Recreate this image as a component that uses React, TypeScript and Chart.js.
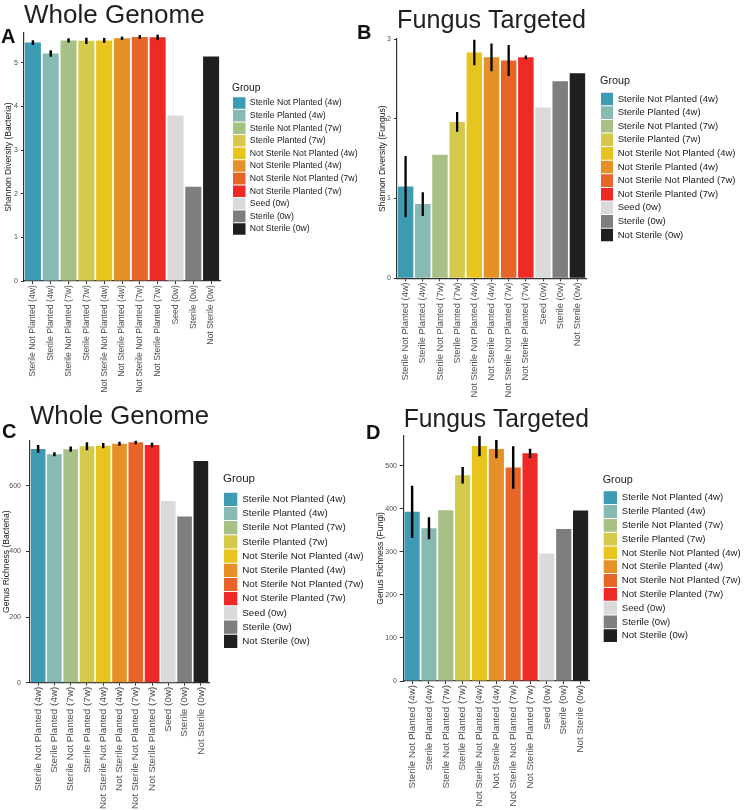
import React, { useEffect, useRef } from 'react';
import { Chart, registerables } from 'chart.js';

Chart.register(...registerables);

const FONT = "'Liberation Sans', Arial, Helvetica, sans-serif";

const groups = [
  'Sterile Not Planted (4w)',
  'Sterile Planted (4w)',
  'Sterile Not Planted (7w)',
  'Sterile Planted (7w)',
  'Not Sterile Not Planted (4w)',
  'Not Sterile Planted (4w)',
  'Not Sterile Not Planted (7w)',
  'Not Sterile Planted (7w)',
  'Seed (0w)',
  'Sterile (0w)',
  'Not Sterile (0w)',
];

const groupColors = [
  '#3E9BB4', '#86BAB3', '#A6C085', '#D5C94C', '#E8C41E', '#E69128',
  '#E8652A', '#EE2A27', '#DADADA', '#7E7E7E', '#1F1F1F',
];

// A: Shannon diversity, whole genome (bacteria)
const shannonBacteria = [5.46, 5.21, 5.51, 5.5, 5.51, 5.56, 5.59, 5.58, 3.79, 2.16, 5.14];
const shannonBacteriaErr = [0.045, 0.065, 0.04, 0.065, 0.05, 0.03, 0.035, 0.055, null, null, null];

// B: Shannon diversity, fungus targeted
const shannonFungus = [1.15, 0.93, 1.55, 1.96, 2.83, 2.77, 2.73, 2.77, 2.14, 2.47, 2.57];
const shannonFungusErr = [0.38, 0.145, null, 0.12, 0.155, 0.17, 0.19, 0.02, null, null, null];

// C: Genus richness, whole genome (bacteria)
const richnessBacteria = [712, 696, 711, 720, 722, 728, 732, 724, 553, 506, 675];
const richnessBacteriaErr = [11, 5, 7, 11, 7, 5, 5, 6, null, null, null];

// D: Genus richness, fungus targeted
const richnessFungi = [393, 355, 397, 478, 546, 539, 496, 529, 296, 353, 396];
const richnessFungiErr = [60, 25, null, 18.5, 23, 20.5, 48.5, 10, null, null, null];

type Spec = {
  key: string;
  letter: string;
  letterX: number;
  letterY: number;
  x: number;
  y: number;
  W: number;
  H: number;
  title: string;
  yTitle: string;
  values: number[];
  errs: (number | null)[];
  max: number;
  step: number;
  chartLeft: number;
  chartRight: number;
  titlePadTop: number;
  titlePadBottom: number;
  zeroY: number;
  legendX: number;
  groupY: number;
  firstY: number;
  boxW: number;
  boxH: number;
  itemPad: number;
  legendFont: number;
  legendTitleFont: number;
  xFont: number;
  yTitleCenter: number;
  yTickPad: number;
  tickLen: number;
  errW: number;
};

const specs: Spec[] = [
  {
    key: 'A', letter: 'A', letterX: 1, letterY: 26,
    x: 0, y: 0, W: 372, H: 400,
    title: 'Whole Genome', yTitle: 'Shannon Diversity (Bacteria)',
    values: shannonBacteria, errs: shannonBacteriaErr, max: 5.68, step: 1,
    chartLeft: 24, chartRight: 220, titlePadTop: 3, titlePadBottom: 4, zeroY: 281,
    legendX: 233, groupY: 88, firstY: 103, boxW: 12.5, boxH: 11.6, itemPad: 1,
    legendFont: 8.7, legendTitleFont: 10.2, xFont: 8.7, yTitleCenter: 9, yTickPad: 3, tickLen: 3, errW: 1.8,
  },
  {
    key: 'B', letter: 'B', letterX: 357, letterY: 22,
    x: 372, y: 0, W: 372, H: 400,
    title: 'Fungus Targeted', yTitle: 'Shannon Diversity (Fungus)',
    values: shannonFungus, errs: shannonFungusErr, max: 3.0, step: 1,
    chartLeft: 25, chartRight: 214, titlePadTop: 7.7, titlePadBottom: 5.3, zeroY: 278.3,
    legendX: 229, groupY: 81, firstY: 99, boxW: 12, boxH: 12.6, itemPad: 1,
    legendFont: 9.5, legendTitleFont: 10.8, xFont: 9.3, yTitleCenter: 11, yTickPad: 3, tickLen: 3, errW: 1.6,
  },
  {
    key: 'C', letter: 'C', letterX: 2, letterY: 421,
    x: 0, y: 400, W: 372, H: 410,
    title: 'Whole Genome', yTitle: 'Genus Richness (Bacteria)',
    values: richnessBacteria, errs: richnessBacteriaErr, max: 737, step: 200,
    chartLeft: 30, chartRight: 209, titlePadTop: 4, titlePadBottom: 10.7, zeroY: 282.7,
    legendX: 224, groupY: 79.3, firstY: 99.3, boxW: 13.3, boxH: 13.2, itemPad: 1,
    legendFont: 9.8, legendTitleFont: 11.5, xFont: 9.9, yTitleCenter: 6.5, yTickPad: 5, tickLen: 4, errW: 1.8,
  },
  {
    key: 'D', letter: 'D', letterX: 366, letterY: 422,
    x: 372, y: 400, W: 372, H: 410,
    title: 'Fungus Targeted', yTitle: 'Genus Richness (Fungi)',
    values: richnessFungi, errs: richnessFungiErr, max: 570, step: 100,
    chartLeft: 31.7, chartRight: 217, titlePadTop: 7, titlePadBottom: 2.7, zeroY: 281,
    legendX: 231.7, groupY: 80, firstY: 97.7, boxW: 13.3, boxH: 12.8, itemPad: 1,
    legendFont: 9.6, legendTitleFont: 10.8, xFont: 9.8, yTitleCenter: 9, yTickPad: 2.7, tickLen: 4, errW: 1.8,
  },
];

function Panel({ s }: { s: Spec }) {
  const ref = useRef<HTMLCanvasElement>(null);

  useEffect(() => {
    const canvas = ref.current;
    if (!canvas) return;

    const mctx = document.createElement('canvas').getContext('2d')!;
    mctx.font = `${s.legendFont}px ${FONT}`;
    const maxText = Math.max(...groups.map((g) => mctx.measureText(g).width));
    const legendLeft = s.legendX - s.itemPad;
    const naturalLegendW = s.itemPad + s.boxW + s.legendFont / 2 + maxText + 10;
    const padRight = s.W - legendLeft - naturalLegendW;
    const gapW = legendLeft - s.chartRight;

    const chartTop = s.titlePadTop + 26 + s.titlePadBottom;
    const ltPadTop = s.groupY - chartTop - s.legendTitleFont / 2;
    const ltPadBottom = s.firstY - s.boxH / 2 - chartTop - s.legendTitleFont - ltPadTop - s.itemPad;

    const errData = s.values.map((v, i) => {
      const e = s.errs[i];
      return e == null ? null : [v - e, v + e];
    });

    const chart = new Chart(canvas, {
      type: 'bar',
      data: {
        labels: groups,
        datasets: [
          {
            label: 'error',
            data: errData as any,
            backgroundColor: '#000000',
            borderWidth: 0,
            barThickness: s.errW,
            grouped: false,
            order: 0,
            xAxisID: 'x',
            yAxisID: 'y',
          } as any,
          {
            label: 'value',
            data: s.values,
            backgroundColor: groupColors,
            borderWidth: 0,
            barPercentage: 0.9,
            categoryPercentage: 1,
            grouped: false,
            order: 1,
            xAxisID: 'x',
            yAxisID: 'y',
          } as any,
        ],
      },
      options: {
        responsive: false,
        maintainAspectRatio: false,
        animation: false,
        devicePixelRatio: 1,
        events: [],
        layout: { padding: { left: 0, top: 0, bottom: 0, right: padRight } },
        plugins: {
          tooltip: { enabled: false },
          title: {
            display: true,
            text: s.title,
            align: 'start',
            fullSize: false,
            color: '#1f1f1f',
            font: { size: 26, family: FONT, weight: 'normal', lineHeight: 1 },
            padding: { top: s.titlePadTop, bottom: s.titlePadBottom },
          },
          legend: {
            display: true,
            position: 'right',
            align: 'start',
            fullSize: false,
            maxWidth: 1000,
            title: {
              display: true,
              text: 'Group',
              position: 'start',
              color: '#1a1a1a',
              font: { size: s.legendTitleFont, family: FONT, lineHeight: 1 },
              padding: { top: ltPadTop, bottom: ltPadBottom } as any,
            },
            labels: {
              boxWidth: s.boxW,
              boxHeight: s.boxH,
              padding: s.itemPad,
              color: '#1a1a1a',
              font: { size: s.legendFont, family: FONT },
              generateLabels: () =>
                groups.map((g, i) => ({
                  text: g,
                  fillStyle: groupColors[i],
                  strokeStyle: groupColors[i],
                  lineWidth: 0,
                  hidden: false,
                  fontColor: '#1a1a1a',
                  datasetIndex: 1,
                  index: i,
                })) as any,
            },
          },
        },
        scales: {
          x: {
            type: 'category',
            offset: true,
            grid: {
              display: true,
              drawOnChartArea: false,
              drawTicks: true,
              tickLength: 3,
              color: '#333333',
              offset: false,
            },
            border: { display: true, color: '#333333', width: 1.2 },
            ticks: {
              autoSkip: false,
              minRotation: 90,
              maxRotation: 90,
              padding: 1,
              color: '#4d4d4d',
              font: { size: s.xFont, family: FONT },
            },
            afterFit: (sc: any) => {
              sc.height = s.H - s.zeroY;
            },
          },
          y: {
            type: 'linear',
            position: 'left',
            min: 0,
            max: s.max,
            grid: {
              display: true,
              drawOnChartArea: false,
              drawTicks: true,
              tickLength: s.tickLen,
              color: '#333333',
            },
            border: { display: true, color: '#333333', width: 1.2 },
            ticks: {
              stepSize: s.step,
              includeBounds: false,
              padding: s.yTickPad,
              color: '#4d4d4d',
              font: { size: 7, family: FONT },
            },
            title: {
              display: true,
              text: s.yTitle,
              color: '#1a1a1a',
              font: { size: 8.6, family: FONT, lineHeight: 1.2 },
              padding: { top: s.yTitleCenter - (8.6 * 1.2) / 2, bottom: 0 },
            },
            afterFit: (sc: any) => {
              sc.width = s.chartLeft;
            },
          },
          gap: {
            type: 'linear',
            position: 'right',
            display: true,
            grid: { display: false },
            border: { display: false },
            ticks: { display: false },
            afterFit: (sc: any) => {
              sc.width = gapW;
            },
          },
        },
      } as any,
    });

    return () => chart.destroy();
  }, [s]);

  return (
    <canvas
      ref={ref}
      width={s.W}
      height={s.H}
      style={{ position: 'absolute', left: s.x, top: s.y, width: s.W, height: s.H }}
    />
  );
}

export default function App() {
  return (
    <div
      style={{
        position: 'absolute',
        left: 0,
        top: 0,
        width: 744,
        height: 810,
        background: '#ffffff',
        overflow: 'hidden',
      }}
    >
      {specs.map((s) => (
        <Panel key={s.key} s={s} />
      ))}
      {specs.map((s) => (
        <div
          key={'L' + s.key}
          style={{
            position: 'absolute',
            left: s.letterX,
            top: s.letterY,
            fontFamily: FONT,
            fontWeight: 'bold',
            fontSize: 20,
            lineHeight: '20px',
            color: '#111111',
          }}
        >
          {s.letter}
        </div>
      ))}
    </div>
  );
}
